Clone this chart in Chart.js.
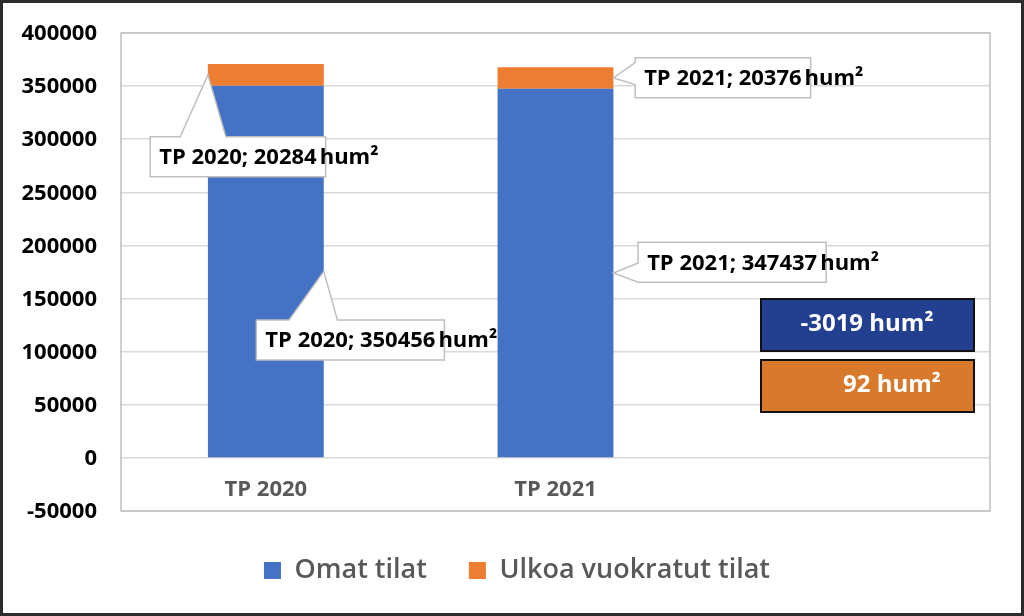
<!DOCTYPE html>
<html>
<head>
<meta charset="utf-8">
<script src="https://cdn.jsdelivr.net/npm/chart.js@4.4.1/dist/chart.umd.min.js"></script>
<style>
    html, body { margin: 0; padding: 0; background: #ffffff; }
    #wrap { width: 1024px; height: 616px; }
</style>
</head>
<body>
<div id="wrap"><canvas id="areaChart" width="1024" height="616"></canvas></div>
<script>
// ==========================================
// DATA
// ==========================================
const categories = ['TP 2020', 'TP 2021', ''];
const ownSpaces = [350456, 347437, null];      // Omat tilat
const rentedSpaces = [20284, 20376, null];     // Ulkoa vuokratut tilat
const seriesNames = ['Omat tilat', 'Ulkoa vuokratut tilat'];
const yTicks = [-50000, 0, 50000, 100000, 150000, 200000, 250000, 300000, 350000, 400000];
const unit = 'hum\u00B2';

const FONT = 'Open Sans';

// callout layout: which bar, where the tip sits, box offset from tip
const callouts = [
    { ds: 1, idx: 0, side: 'left',  dx: -57.7, dy: 62,    edge: 'top',  p1: 30,   p2: 75.7 },
    { ds: 0, idx: 0, side: 'right', dx: -67.4, dy: 48.6,  edge: 'top',  p1: 32.7, p2: 81 },
    { ds: 1, idx: 1, side: 'right', dx: 21.7,  dy: -20.2, edge: 'left', p1: 4.7,  p2: 26.7 },
    { ds: 0, idx: 1, side: 'right', dx: 24.7,  dy: -30.7, edge: 'left', p1: 20.7, p2: 40 }
];

// ==========================================
// PLUGIN: frame, plot border, axis labels, callouts, change boxes
// ==========================================
const decorPlugin = {
    id: 'decor',
    beforeDraw(chart) {
        const ctx = chart.ctx;
        ctx.save();
        ctx.fillStyle = '#ffffff';
        ctx.fillRect(0, 0, chart.width, chart.height);
        ctx.restore();
    },
    beforeDatasetsDraw(chart) {
        const { ctx, chartArea: a, scales: { x, y } } = chart;
        ctx.save();
        ctx.strokeStyle = '#bfbfbf';
        ctx.lineWidth = 1.5;
        ctx.strokeRect(a.left, a.top, a.right - a.left, a.bottom - a.top);

        // y tick labels (drawn here so they are not clipped to the narrow axis box)
        ctx.fillStyle = '#000000';
        ctx.font = 'bold 22px "' + FONT + '"';
        ctx.textAlign = 'right';
        ctx.textBaseline = 'middle';
        yTicks.forEach(v => ctx.fillText(String(v), a.left - 24, y.getPixelForValue(v) + 1));

        // category labels sit inside the plot, under the zero line
        ctx.fillStyle = '#595959';
        ctx.textAlign = 'center';
        categories.forEach((c, i) => {
            if (c) ctx.fillText(c, x.getPixelForValue(i), a.bottom - 21);
        });
        ctx.restore();
    },
    afterDatasetsDraw(chart) {
        const ctx = chart.ctx;
        ctx.save();
        ctx.font = 'bold 22px "' + FONT + '"';
        ctx.textBaseline = 'middle';
        ctx.textAlign = 'left';

        callouts.forEach(c => {
            const el = chart.getDatasetMeta(c.ds).data[c.idx];
            const p = el.getProps(['x', 'y', 'base', 'width'], true);
            const tipX = c.side === 'left' ? p.x - p.width / 2 : p.x + p.width / 2;
            const tipY = (p.y + p.base) / 2;
            const value = chart.data.datasets[c.ds].data[c.idx];
            const main = categories[c.idx] + '; ' + value;
            const w = ctx.measureText(main).width + 18;
            const h = 40;
            const L = tipX + c.dx, T = tipY + c.dy, R = L + w, B = T + h;

            ctx.beginPath();
            if (c.edge === 'top') {
                ctx.moveTo(L, T);
                ctx.lineTo(L + c.p1, T);
                ctx.lineTo(tipX, tipY);
                ctx.lineTo(L + c.p2, T);
                ctx.lineTo(R, T);
                ctx.lineTo(R, B);
                ctx.lineTo(L, B);
            } else {
                ctx.moveTo(L, T);
                ctx.lineTo(R, T);
                ctx.lineTo(R, B);
                ctx.lineTo(L, B);
                ctx.lineTo(L, T + c.p2);
                ctx.lineTo(tipX, tipY);
                ctx.lineTo(L, T + c.p1);
            }
            ctx.closePath();
            ctx.fillStyle = '#ffffff';
            ctx.fill();
            ctx.strokeStyle = '#bfbfbf';
            ctx.lineWidth = 1.5;
            ctx.stroke();

            ctx.fillStyle = '#000000';
            ctx.fillText(main, L + 9, T + h / 2 + 1);
            ctx.fillText(unit, L + 9 + ctx.measureText(main).width + 3, T + h / 2 + 1);
        });

        // change boxes (TP 2021 minus TP 2020)
        const boxes = [
            { text: (ownSpaces[1] - ownSpaces[0]) + ' ' + unit, fill: '#233f8f', y: 299, align: 'center' },
            { text: (rentedSpaces[1] - rentedSpaces[0]) + ' ' + unit, fill: '#d8792b', y: 360, align: 'left' }
        ];
        ctx.font = 'bold 24px "' + FONT + '"';
        boxes.forEach(b => {
            ctx.fillStyle = b.fill;
            ctx.fillRect(761, b.y, 213, 52);
            ctx.strokeStyle = '#111111';
            ctx.lineWidth = 2;
            ctx.strokeRect(761, b.y, 213, 52);
            ctx.fillStyle = '#ffffff';
            ctx.textAlign = b.align;
            ctx.fillText(b.text, b.align === 'center' ? 867 : 843, b.y + 25);
        });

        // outer frame
        ctx.strokeStyle = '#2b2b2b';
        ctx.lineWidth = 3;
        ctx.strokeRect(1.5, 1.5, chart.width - 3, chart.height - 3);
        ctx.restore();
    }
};

// ==========================================
// CHART
// ==========================================
const chartEl = document.getElementById('areaChart');
if (chartEl) {
    new Chart(chartEl.getContext('2d'), {
        type: 'bar',
        data: {
            labels: categories,
            datasets: [{
                label: seriesNames[0],
                data: ownSpaces,
                backgroundColor: '#4472c4',
                borderWidth: 0,
                categoryPercentage: 1,
                barPercentage: 0.4
            }, {
                label: seriesNames[1],
                data: rentedSpaces,
                backgroundColor: '#ed7d31',
                borderWidth: 0,
                categoryPercentage: 1,
                barPercentage: 0.4
            }]
        },
        options: {
            responsive: false,
            animation: false,
            layout: { padding: { left: 44, top: 33, right: 34, bottom: 22 } },
            plugins: {
                legend: {
                    position: 'bottom',
                    // empty title only nudges the legend row down a few pixels
                    title: { display: true, text: '', padding: 0, font: { size: 4, lineHeight: 1 } },
                    labels: {
                        boxWidth: 17,
                        boxHeight: 17,
                        padding: 42,
                        color: '#595959',
                        font: { family: FONT, size: 27, weight: '600' }
                    }
                },
                tooltip: { enabled: false }
            },
            scales: {
                x: {
                    stacked: true,
                    display: false
                },
                y: {
                    stacked: true,
                    min: yTicks[0],
                    max: yTicks[yTicks.length - 1],
                    afterFit(scale) { scale.width = 77; },
                    afterBuildTicks(scale) { scale.ticks = yTicks.map(v => ({ value: v })); },
                    border: { display: false },
                    grid: { color: '#d9d9d9', lineWidth: 1.5, drawTicks: false },
                    ticks: { display: false }
                }
            }
        },
        plugins: [decorPlugin]
    });
}
</script>
</body>
</html>
